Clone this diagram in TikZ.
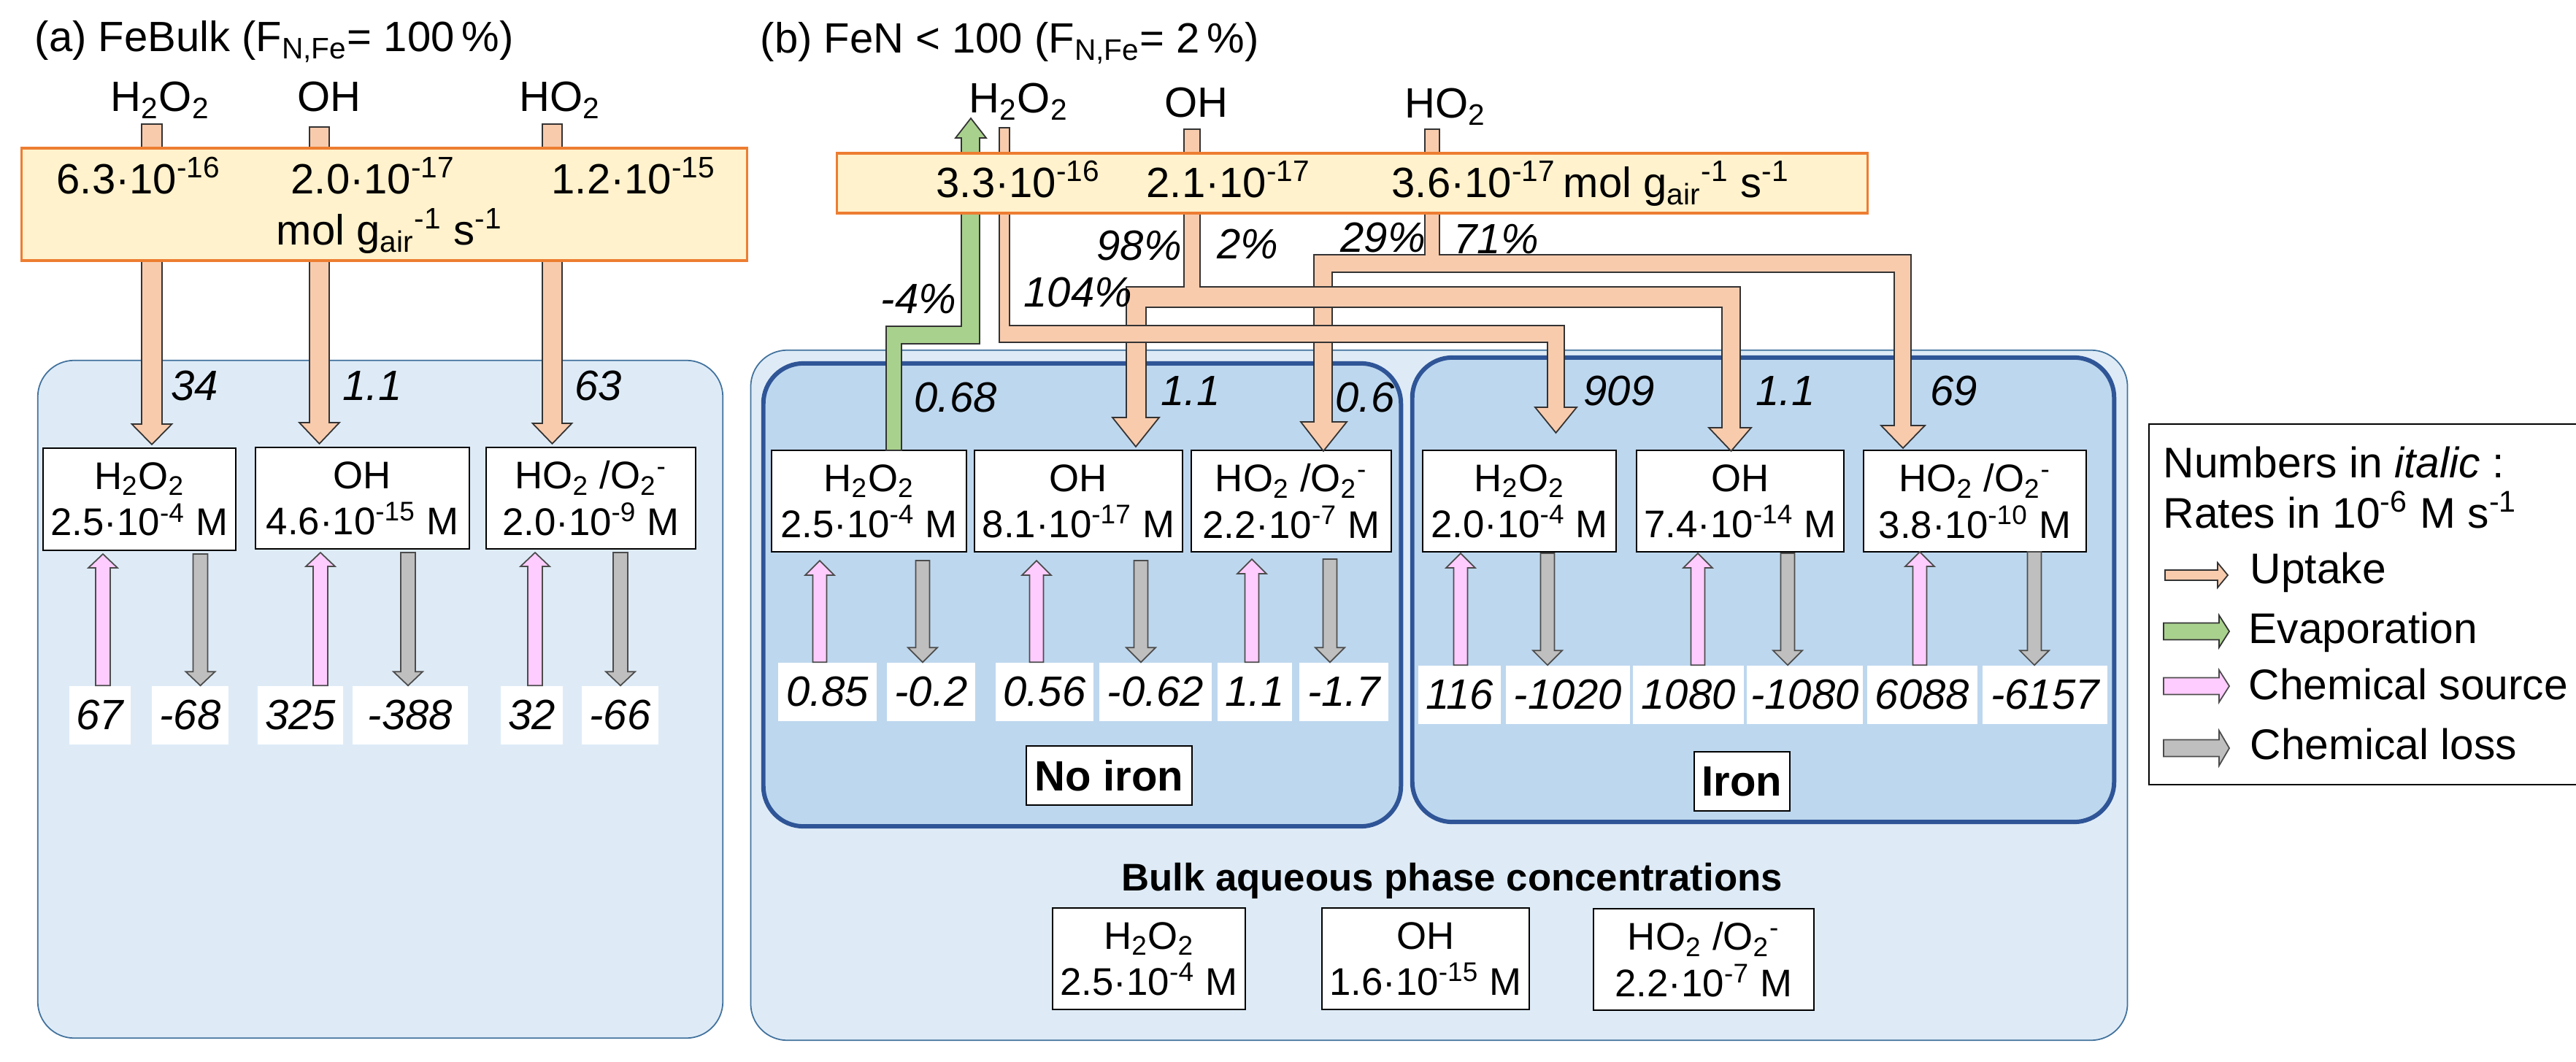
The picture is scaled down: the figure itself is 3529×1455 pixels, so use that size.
\documentclass[tikz,border=0pt]{standalone}
\usepackage{fontspec}
\setmainfont{Liberation Sans}
\usetikzlibrary{calc}
\definecolor{upt}{HTML}{F8CBAD}
\definecolor{evap}{HTML}{A9D18E}
\definecolor{srcc}{HTML}{FFCCFF}
\definecolor{lossc}{HTML}{BFBFBF}
\definecolor{gasfill}{HTML}{FFF2CC}
\definecolor{gasline}{HTML}{ED7D31}
\definecolor{panelfill}{HTML}{DEEBF7}
\definecolor{panelline}{HTML}{41719C}
\definecolor{regfill}{HTML}{BDD7EE}
\definecolor{regline}{HTML}{2F5597}
\newcommand\mysup[1]{\textsuperscript{#1}}
\newcommand\mysub[1]{\textsubscript{#1}}
\newcommand\fbig{\fontsize{16.5}{19.8}\selectfont}
\newcommand\flegend{\fontsize{16.7}{20}\selectfont}
\newcommand\fnum{\fontsize{16.5}{20}\selectfont}
\newcommand\fspec{\fontsize{15}{18}\selectfont}
\newcommand\HtwoOtwo{H\mysub{2}O\mysub{2}}
\newcommand\HOtwoOtwo{HO\mysub{2} /O\mysub{2}\mysup{-}}
\newcommand\molunit{mol g\mysub{air}\mysup{-1} s\mysup{-1}}
% vertical block arrow: style, start, end, half shaft, half head, head length
\newcommand\barrow[6]{%
  \path[#1] ([xshift=-#4]$(#2)$) -- ([xshift=-#4]$(#3)!#6!(#2)$) -- ([xshift=-#5]$(#3)!#6!(#2)$) -- (#3)
   -- ([xshift=#5]$(#3)!#6!(#2)$) -- ([xshift=#4]$(#3)!#6!(#2)$) -- ([xshift=#4]$(#2)$) -- cycle;}
% horizontal block arrow
\newcommand\hbarrow[6]{%
  \path[#1] ([yshift=-#4]$(#2)$) -- ([yshift=-#4]$(#3)!#6!(#2)$) -- ([yshift=-#5]$(#3)!#6!(#2)$) -- (#3)
   -- ([yshift=#5]$(#3)!#6!(#2)$) -- ([yshift=#4]$(#3)!#6!(#2)$) -- ([yshift=#4]$(#2)$) -- cycle;}
\begin{document}
\begin{tikzpicture}[x=0.01cm,y=-0.01cm,
  txt/.style={inner sep=0pt, anchor=base west, font=\fbig},
  legtxt/.style={inner sep=0pt, anchor=base west, font=\flegend},
  numtxt/.style={inner sep=0pt, anchor=base west, font=\fnum},
  ratelab/.style={inner sep=0pt, anchor=base west, font=\fbig\itshape},
  panel/.style={draw=panelline, line width=0.5pt, fill=panelfill, rounded corners=0.5cm},
  region/.style={draw=regline, line width=1.7pt, fill=regfill, rounded corners=0.55cm},
  gasbox/.style={draw=gasline, line width=1pt, fill=gasfill},
  spbox/.style={draw=black, line width=0.5pt, fill=white, align=center, inner sep=0pt, font=\fspec},
  valbox/.style={fill=white, inner sep=0pt, minimum height=0.8cm, font=\fbig\itshape},
  labbox/.style={draw=black, line width=0.5pt, fill=white, inner sep=0pt, minimum height=0.81cm, font=\fbig\bfseries},
  uptk/.style={fill=upt, draw=black!80, line width=0.5pt},
  evp/.style={fill=evap, draw=black!80, line width=0.5pt},
  srca/.style={fill=srcc, draw=black!70, line width=0.5pt},
  lossa/.style={fill=lossc, draw=black!70, line width=0.5pt},
]
\useasboundingbox (0,0) rectangle (3529,1455);
\clip (0,0) rectangle (3529,1455);

% ---------- panels ----------
\node[panel, minimum width=9.38cm, minimum height=9.28cm] (pA) at (521,958) {};
\node[panel, minimum width=18.85cm, minimum height=9.45cm] (pB) at (1971.5,952.5) {};
\node[region, minimum width=8.73cm, minimum height=6.34cm] (rN) at (1482.5,815) {};
\node[region, minimum width=9.61cm, minimum height=6.36cm] (rI) at (2415.5,808) {};

% ---------- titles ----------
\node[txt] (tA) at (47,71) {(a) FeBulk (F\mysub{N,Fe}= 100\,\%)};
\node[txt] (tB) at (1041,73) {(b) FeN < 100 (F\mysub{N,Fe}= 2\,\%)};

% ---------- gas species labels ----------
\node[txt] (mA1) at (151,153) {\HtwoOtwo};
\node[txt] (mA2) at (407,153) {OH};
\node[txt] (mA3) at (711,153) {HO\mysub{2}};
\node[txt] (mB1) at (1327,155) {\HtwoOtwo};
\node[txt] (mB2) at (1595,161) {OH};
\node[txt] (mB3) at (1924,162) {HO\mysub{2}};

% ---------- species boxes ----------
\node[spbox, outer ysep=0.05cm, minimum width=2.64cm, minimum height=1.40cm] (sA1) at (191,684) {\HtwoOtwo\\2.5·10\mysup{-4} M};
\node[spbox, outer ysep=0.05cm, minimum width=2.93cm, minimum height=1.39cm] (sA2) at (496.5,682.5) {OH\\4.6·10\mysup{-15} M};
\node[spbox, outer ysep=0.05cm, minimum width=2.87cm, minimum height=1.39cm] (sA3) at (809.5,682.5) {\HOtwoOtwo\\2.0·10\mysup{-9} M};

\node[spbox, outer ysep=0.12cm, minimum width=2.67cm, minimum height=1.39cm] (sB1) at (1190.5,686.5) {\HtwoOtwo\\2.5·10\mysup{-4} M};
\node[spbox, outer ysep=0.12cm, minimum width=2.85cm, minimum height=1.39cm] (sB2) at (1477.5,686.5) {OH\\8.1·10\mysup{-17} M};
\node[spbox, outer ysep=0.10cm, minimum width=2.74cm, minimum height=1.39cm] (sB3) at (1769,686.5) {\HOtwoOtwo\\2.2·10\mysup{-7} M};

\node[spbox, outer ysep=0.02cm, minimum width=2.65cm, minimum height=1.39cm] (sC1) at (2081.5,686.5) {\HtwoOtwo\\2.0·10\mysup{-4} M};
\node[spbox, outer ysep=0.02cm, minimum width=2.84cm, minimum height=1.39cm] (sC2) at (2384,686.5) {OH\\7.4·10\mysup{-14} M};
\node[spbox, outer ysep=0.0cm, minimum width=3.05cm, minimum height=1.39cm] (sC3) at (2705.5,686.5) {\HOtwoOtwo\\3.8·10\mysup{-10} M};

% ---------- value boxes ----------
\node[valbox, minimum width=0.84cm] (vA1) at (137,980) {67};
\node[valbox, minimum width=1.05cm] (vA2) at (260.5,980) {-68};
\node[valbox, minimum width=1.17cm] (vA3) at (411.5,980) {325};
\node[valbox, minimum width=1.58cm] (vA4) at (562,980) {-388};
\node[valbox, minimum width=0.85cm] (vA5) at (728.5,980) {32};
\node[valbox, minimum width=1.05cm] (vA6) at (849.5,980) {-66};

\node[valbox, minimum width=1.35cm] (vB1) at (1133.5,948) {0.85};
\node[valbox, minimum width=1.21cm] (vB2) at (1275.5,948) {-0.2};
\node[valbox, minimum width=1.34cm] (vB3) at (1431,948) {0.56};
\node[valbox, minimum width=1.54cm] (vB4) at (1583,948) {-0.62};
\node[valbox, minimum width=1.02cm] (vB5) at (1719,948) {1.1};
\node[valbox, minimum width=1.22cm] (vB6) at (1841,948) {-1.7};

\node[valbox, minimum width=1.13cm] (vC1) at (1999.5,952) {116};
\node[valbox, minimum width=1.70cm] (vC2) at (2148,952) {-1020};
\node[valbox, minimum width=1.52cm] (vC3) at (2313,952) {1080};
\node[valbox, minimum width=1.59cm] (vC4) at (2472.5,952) {-1080};
\node[valbox, minimum width=1.51cm] (vC5) at (2633.5,952) {6088};
\node[valbox, minimum width=1.71cm] (vC6) at (2801.5,952) {-6157};

% ---------- uptake arrows (a) ----------
\barrow{uptk}{208,170}{208,0 |- sA1.north}{0.14cm}{0.275cm}{0.28cm}
\barrow{uptk}{437.5,174}{437.5,0 |- sA2.north}{0.135cm}{0.275cm}{0.29cm}
\barrow{uptk}{756.5,170}{756.5,0 |- sA3.north}{0.135cm}{0.27cm}{0.28cm}

% ---------- uptake routes (b) ----------
\path[uptk] (1952,177) -- (1972,177) -- (1972,349) -- (2618,349) -- (2618,583) -- (2637,583) -- (2607,614)
  -- (2577,583) -- (2595,583) -- (2595,373) -- (1825,373) -- (1825,578) -- (1845,578) -- (1813,618)
  -- (1782,578) -- (1800,578) -- (1800,349) -- (1952,349) -- cycle;
\path[uptk] (1622,177) -- (1644,177) -- (1644,393) -- (2384,393) -- (2384,586) -- (2399,586) -- (2371.5,618)
  -- (2341,586) -- (2359,586) -- (2359,421) -- (1570,421) -- (1570,572) -- (1588,572) -- (1556,612)
  -- (1524,572) -- (1543,572) -- (1543,393) -- (1622,393) -- cycle;
\path[uptk] (1369,175) -- (1383,175) -- (1383,446) -- (2143,446) -- (2143,558) -- (2160,558) -- (2131.5,593)
  -- (2103,558) -- (2120,558) -- (2120,469) -- (1369,469) -- cycle;
% evaporation
\path[evp] (1214,617) -- (1214,447) -- (1317,447) -- (1317,189) -- (1309,189) -- (1330,162) -- (1351,189)
  -- (1342,189) -- (1342,471) -- (1235,471) -- (1235,617) -- cycle;

% ---------- gas-phase boxes ----------
\node[gasbox, minimum width=9.93cm, minimum height=1.54cm] (gA) at (526.5,280) {};
\node[numtxt] (gA1) at (77,266) {6.3·10\mysup{-16}};
\node[numtxt] (gA2) at (398,266) {2.0·10\mysup{-17}};
\node[numtxt] (gA3) at (755,266) {1.2·10\mysup{-15}};
\node[numtxt] (gA4) at (378,336) {\molunit};

\node[gasbox, minimum width=14.11cm, minimum height=0.82cm] (gB) at (1852.5,251) {};
\node[numtxt] (gB1) at (1282,271) {3.3·10\mysup{-16}};
\node[numtxt] (gB2) at (1570,271) {2.1·10\mysup{-17}};
\node[numtxt] (gB3) at (1906,271) {3.6·10\mysup{-17}};
\node[numtxt] (gB4) at (2141,271) {\molunit};

% ---------- rate labels ----------
\node[ratelab] at (234,549) {34};
\node[ratelab] at (469,549) {1.1};
\node[ratelab] at (787,549) {63};
\node[ratelab] at (1252,565) {0.68};
\node[ratelab] at (1590,556) {1.1};
\node[ratelab] at (1829,565) {0.6};
\node[ratelab] at (2169,556) {909};
\node[ratelab] at (2405,556) {1.1};
\node[ratelab] at (2644,556) {69};
\node[ratelab] at (1206,430) {-4\%};
\node[ratelab] at (1402,421) {104\%};
\node[ratelab] at (1502,357) {98\%};
\node[ratelab] at (1667,355) {2\%};
\node[ratelab] at (1836,346) {29\%};
\node[ratelab] at (1991,348) {71\%};

% ---------- chemical source / loss arrows ----------
\barrow{srca}{141,0 |- vA1.north}{141,0 |- sA1.south}{0.10cm}{0.20cm}{0.19cm}
\barrow{lossa}{274.5,0 |- sA1.south}{274.5,0 |- vA2.north}{0.10cm}{0.20cm}{0.19cm}
\barrow{srca}{439,0 |- vA3.north}{439,0 |- sA2.south}{0.10cm}{0.20cm}{0.19cm}
\barrow{lossa}{559,0 |- sA2.south}{559,0 |- vA4.north}{0.10cm}{0.20cm}{0.19cm}
\barrow{srca}{733,0 |- vA5.north}{733,0 |- sA3.south}{0.10cm}{0.20cm}{0.19cm}
\barrow{lossa}{850,0 |- sA3.south}{850,0 |- vA6.north}{0.10cm}{0.20cm}{0.19cm}

\barrow{srca}{1123,0 |- vB1.north}{1123,0 |- sB1.south}{0.095cm}{0.20cm}{0.20cm}
\barrow{lossa}{1264,0 |- sB1.south}{1264,0 |- vB2.north}{0.095cm}{0.20cm}{0.20cm}
\barrow{srca}{1420,0 |- vB3.north}{1420,0 |- sB2.south}{0.095cm}{0.20cm}{0.20cm}
\barrow{lossa}{1563,0 |- sB2.south}{1563,0 |- vB4.north}{0.095cm}{0.20cm}{0.20cm}
\barrow{srca}{1715,0 |- vB5.north}{1715,0 |- sB3.south}{0.095cm}{0.20cm}{0.20cm}
\barrow{lossa}{1822,0 |- sB3.south}{1822,0 |- vB6.north}{0.095cm}{0.20cm}{0.20cm}

\barrow{srca}{2001,0 |- vC1.north}{2001,0 |- sC1.south}{0.095cm}{0.20cm}{0.20cm}
\barrow{lossa}{2120,0 |- sC1.south}{2120,0 |- vC2.north}{0.095cm}{0.20cm}{0.20cm}
\barrow{srca}{2326,0 |- vC3.north}{2326,0 |- sC2.south}{0.095cm}{0.20cm}{0.20cm}
\barrow{lossa}{2449,0 |- sC2.south}{2449,0 |- vC4.north}{0.095cm}{0.20cm}{0.20cm}
\barrow{srca}{2630,0 |- vC5.north}{2630,0 |- sC3.south}{0.095cm}{0.20cm}{0.20cm}
\barrow{lossa}{2787,0 |- sC3.south}{2787,0 |- vC6.north}{0.095cm}{0.20cm}{0.20cm}

% ---------- region labels ----------
\node[labbox, minimum width=2.27cm] (lN) at (1519.5,1062.5) {No iron};
\node[labbox, minimum width=1.31cm] (lI) at (2386.5,1070.5) {Iron};

% ---------- bulk concentrations ----------
\node[inner sep=0pt, anchor=base, font=\fspec\bfseries] (bulkt) at (1989,1220) {Bulk aqueous phase concentrations};
\node[spbox, minimum width=2.64cm, minimum height=1.39cm] (bk1) at (1574,1313.5) {\HtwoOtwo\\2.5·10\mysup{-4} M};
\node[spbox, minimum width=2.84cm, minimum height=1.39cm] (bk2) at (1953,1313.5) {OH\\1.6·10\mysup{-15} M};
\node[spbox, minimum width=3.02cm, minimum height=1.39cm] (bk3) at (2334,1314.5) {\HOtwoOtwo\\2.2·10\mysup{-7} M};

% ---------- legend ----------
\node[draw=black, line width=0.5pt, fill=white, anchor=north west, inner sep=0pt, minimum width=6.2cm, minimum height=4.94cm] (leg) at (2943,580) {};
\node[legtxt] (lg1) at (2963,655) {Numbers in \textit{italic} :};
\node[legtxt] (lg2) at (2963,724) {Rates in 10\mysup{-6} M s\mysup{-1}};
\hbarrow{uptk}{2966,788}{3052,788}{0.07cm}{0.17cm}{0.14cm}
\hbarrow{evp}{2964,865}{3054,865}{0.115cm}{0.22cm}{0.14cm}
\hbarrow{srca}{2964,940}{3054,940}{0.115cm}{0.22cm}{0.14cm}
\hbarrow{lossa}{2964,1025}{3054,1025}{0.115cm}{0.24cm}{0.14cm}
\node[legtxt] (lg3) at (3082,799) {Uptake};
\node[legtxt] (lg4) at (3080,881) {Evaporation};
\node[legtxt] (lg5) at (3080,958) {Chemical source};
\node[legtxt] (lg6) at (3082,1040) {Chemical loss};
\end{tikzpicture}
\end{document}
